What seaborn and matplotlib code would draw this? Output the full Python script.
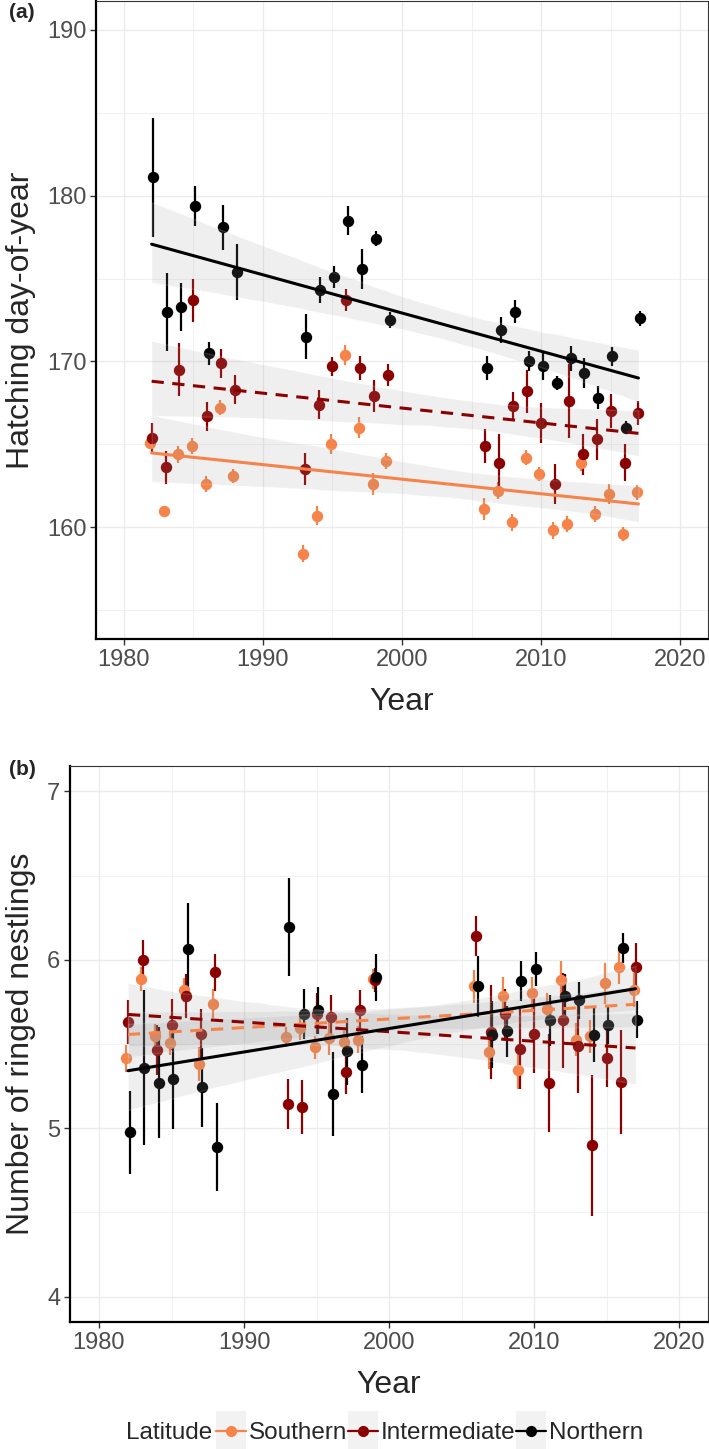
import numpy as np
import pandas as pd
import matplotlib
matplotlib.use("Agg")
import matplotlib.pyplot as plt
import seaborn as sns
from matplotlib.lines import Line2D
from matplotlib.patches import Rectangle
from matplotlib.legend_handler import HandlerLine2D
from matplotlib.ticker import MultipleLocator

# survey years (three blocks)
years = list(range(1982, 1989)) + list(range(1993, 2000)) + list(range(2006, 2018))
latitudes = ["Southern", "Intermediate", "Northern"]
colors = {"Southern": "#F5834A", "Intermediate": "#8B0000", "Northern": "#000000"}

# (a) hatching day-of-year, mean and SE
hatch_south = [165.1, 161.0, 164.4, 164.9, 162.6, 167.2, 163.1,
               158.4, 160.7, 165.0, 170.4, 166.0, 162.6, 164.0,
               161.1, 162.2, 160.3, 164.2, 163.2, 159.8, 160.2, 163.9, 160.8, 162.0, 159.6, 162.1]
hatch_south_se = [0.4, 0.3, 0.5, 0.47, 0.48, 0.45, 0.43,
                  0.5, 0.6, 0.6, 0.6, 0.65, 0.68, 0.47,
                  0.68, 0.52, 0.52, 0.45, 0.4, 0.5, 0.48, 0.5, 0.5, 0.58, 0.42, 0.45]
hatch_inter = [165.4, 163.6, 169.5, 173.7, 166.7, 169.9, 168.3,
               163.5, 167.4, 169.7, 173.7, 169.6, 167.9, 169.2,
               164.9, 163.9, 167.3, 168.2, 166.3, 162.6, 167.6, 164.4, 165.3, 167.0, 163.9, 166.9]
hatch_inter_se = [0.87, 1.0, 1.6, 1.3, 0.87, 0.88, 0.87,
                  0.97, 0.85, 0.58, 0.65, 0.74, 0.97, 0.67,
                  1.05, 1.7, 0.87, 1.3, 1.2, 1.22, 2.25, 1.23, 1.22, 1.03, 1.1, 0.74]
hatch_north = [181.1, 173.0, 173.3, 179.4, 170.5, 178.1, 175.4,
               171.5, 174.3, 175.1, 178.5, 175.6, 177.4, 172.5,
               169.6, 171.9, 173.0, 170.0, 169.7, 168.7, 170.2, 169.3, 167.8, 170.3, 166.0, 172.6]
hatch_north_se = [3.6, 2.35, 1.45, 1.2, 0.7, 1.35, 1.7,
                  1.35, 0.8, 0.65, 0.9, 1.2, 0.45, 0.5,
                  0.7, 0.8, 0.7, 0.6, 0.85, 0.4, 0.75, 0.9, 0.7, 0.6, 0.4, 0.47]

# (b) number of ringed nestlings, mean and SE
nest_south = [5.415, 5.886, 5.547, 5.506, 5.82, 5.38, 5.739,
              5.543, 5.595, 5.48, 5.536, 5.51, 5.526, 5.887,
              5.842, 5.45, 5.787, 5.344, 5.80, 5.705, 5.88, 5.526, 5.545, 5.86, 5.955, 5.822]
nest_south_se = [0.08, 0.07, 0.07, 0.07, 0.07, 0.1, 0.085,
                 0.06, 0.07, 0.07, 0.1, 0.07, 0.08, 0.06,
                 0.1, 0.1, 0.11, 0.11, 0.1, 0.1, 0.11, 0.1, 0.1, 0.12, 0.1, 0.1]
nest_inter = [5.63, 6.0, 5.465, 5.615, 5.786, 5.56, 5.927,
              5.144, 5.124, 5.68, 5.658, 5.334, 5.70, 5.88,
              6.142, 5.57, 5.678, 5.47, 5.56, 5.27, 5.64, 5.49, 4.898, 5.417, 5.274, 5.957]
nest_inter_se = [0.13, 0.12, 0.15, 0.15, 0.13, 0.15, 0.11,
                 0.147, 0.16, 0.12, 0.13, 0.13, 0.12, 0.07,
                 0.12, 0.28, 0.15, 0.24, 0.23, 0.29, 0.28, 0.28, 0.42, 0.17, 0.31, 0.14]
nest_north = [4.975, 5.36, 5.27, 5.294, 6.064, 5.242, 4.89,
              6.196, 5.678, 5.70, 5.204, 5.457, 5.377, 5.895,
              5.842, 5.555, 5.575, 5.874, 5.945, 5.64, 5.783, 5.76, 5.555, 5.61, 6.069, 5.644]
nest_north_se = [0.245, 0.46, 0.33, 0.30, 0.27, 0.235, 0.26,
                 0.29, 0.15, 0.14, 0.25, 0.2, 0.17, 0.14,
                 0.18, 0.2, 0.15, 0.12, 0.1, 0.15, 0.13, 0.11, 0.16, 0.11, 0.087, 0.11]

# line style of each trend (dashed = non-significant)
styles_a = {"Southern": "-", "Intermediate": "--", "Northern": "-"}
styles_b = {"Southern": "--", "Intermediate": "--", "Northern": "-"}

df = pd.concat([
    pd.DataFrame({"Year": years, "Latitude": "Southern", "hatch": hatch_south, "hatch_se": hatch_south_se,
                  "nest": nest_south, "nest_se": nest_south_se}),
    pd.DataFrame({"Year": years, "Latitude": "Intermediate", "hatch": hatch_inter, "hatch_se": hatch_inter_se,
                  "nest": nest_inter, "nest_se": nest_inter_se}),
    pd.DataFrame({"Year": years, "Latitude": "Northern", "hatch": hatch_north, "hatch_se": hatch_north_se,
                  "nest": nest_north, "nest_se": nest_north_se}),
], ignore_index=True)
dodge = {"Southern": -0.12, "Intermediate": 0.0, "Northern": 0.12}
df["Year_d"] = df["Year"] + df["Latitude"].map(dodge)

sns.set_style("ticks")
plt.rcParams["font.family"] = ["Liberation Sans", "DejaVu Sans"]

W, H = 709, 1449
fig = plt.figure(figsize=(W / 100, H / 100), dpi=100)
ax_a = fig.add_axes([96 / W, 1 - 639 / H, 612 / W, 638 / H])
ax_b = fig.add_axes([70 / W, 1 - 1322 / H, 638 / W, 556 / H])


def draw_panel(ax, col, styles):
    for lat in latitudes:
        d = df[df["Latitude"] == lat]
        ax.errorbar(d["Year_d"], d[col], yerr=d[col + "_se"], fmt="o", color=colors[lat],
                    ms=7.2, elinewidth=1.6, capsize=0, zorder=2)
    for i, lat in enumerate(latitudes):
        d = df[df["Latitude"] == lat]
        n = len(ax.collections)
        sns.regplot(data=d, x="Year", y=col, scatter=False, ci=95, n_boot=1000, seed=7 + i,
                    color="#999999", line_kws={"alpha": 0}, truncate=True, ax=ax)
        for c in ax.collections[n:]:
            c.set_zorder(3)
        sns.regplot(data=d, x="Year", y=col, scatter=False, ci=None, color=colors[lat],
                    line_kws={"lw": 2.2, "ls": styles[lat], "zorder": 4}, truncate=True, ax=ax)
        if styles[lat] == "--":
            ax.lines[-1].set_dashes((4.0, 2.8))


def style_axes(ax, ylabel, yticks, yminor, ylim):
    ax.set_xlim(1978, 2022)
    ax.set_ylim(*ylim)
    ax.set_xticks([1980, 1990, 2000, 2010, 2020])
    ax.xaxis.set_minor_locator(MultipleLocator(5))
    ax.set_yticks(yticks)
    ax.yaxis.set_minor_locator(MultipleLocator(yminor))
    ax.grid(True, which="major", color="#EBEBEB", lw=1.0, zorder=0)
    ax.grid(True, which="minor", color="#F0F0F0", lw=0.7, zorder=0)
    ax.set_axisbelow(True)
    ax.tick_params(which="major", length=4, width=1.0, color="#333333",
                   labelsize=17, labelcolor="#4D4D4D", pad=3)
    ax.tick_params(which="minor", length=0)
    for s in ["left", "bottom"]:
        ax.spines[s].set_color("black")
        ax.spines[s].set_linewidth(1.6)
    for s in ["top", "right"]:
        ax.spines[s].set_color("#333333")
        ax.spines[s].set_linewidth(0.8)
    ax.set_xlabel("Year", fontsize=23, labelpad=12)
    ax.set_ylabel(ylabel, fontsize=23, labelpad=8)


draw_panel(ax_a, "hatch", styles_a)
style_axes(ax_a, "Hatching day-of-year", [160, 170, 180, 190], 5, (153.25, 191.75))
draw_panel(ax_b, "nest", styles_b)
style_axes(ax_b, "Number of ringed nestlings", [4, 5, 6, 7], 0.5, (3.85, 7.15))

fig.text(0.012, 0.998, "(a)", fontsize=15, weight="bold", va="top")
fig.text(0.012, 1 - 760 / H, "(b)", fontsize=15, weight="bold", va="top")


class KeyHandler(HandlerLine2D):
    def create_artists(self, legend, orig_handle, xdescent, ydescent, width, height, fontsize, trans):
        bg = Rectangle((-xdescent, -ydescent - height * 0.65), width, height * 2.3,
                       facecolor="#F2F2F2", edgecolor="none", transform=trans)
        arts = super().create_artists(legend, orig_handle, xdescent, ydescent, width, height, fontsize, trans)
        return [bg] + list(arts)


handles = [Line2D([], [], color=colors[lat], marker="o", ms=7, lw=1.6) for lat in latitudes]
fig.text(212 / W, 1 - 1433 / H, "Latitude", fontsize=17.5, ha="right", va="center")
fig.legend(handles, latitudes, loc="center left", bbox_to_anchor=(216 / W, 1 - 1433 / H),
           ncol=3, frameon=False, fontsize=17.5, handlelength=1.25, handletextpad=0.12,
           columnspacing=0.0, borderpad=0, borderaxespad=0,
           handler_map={Line2D: KeyHandler(numpoints=1)})

fig.savefig("out.png", dpi=100)
